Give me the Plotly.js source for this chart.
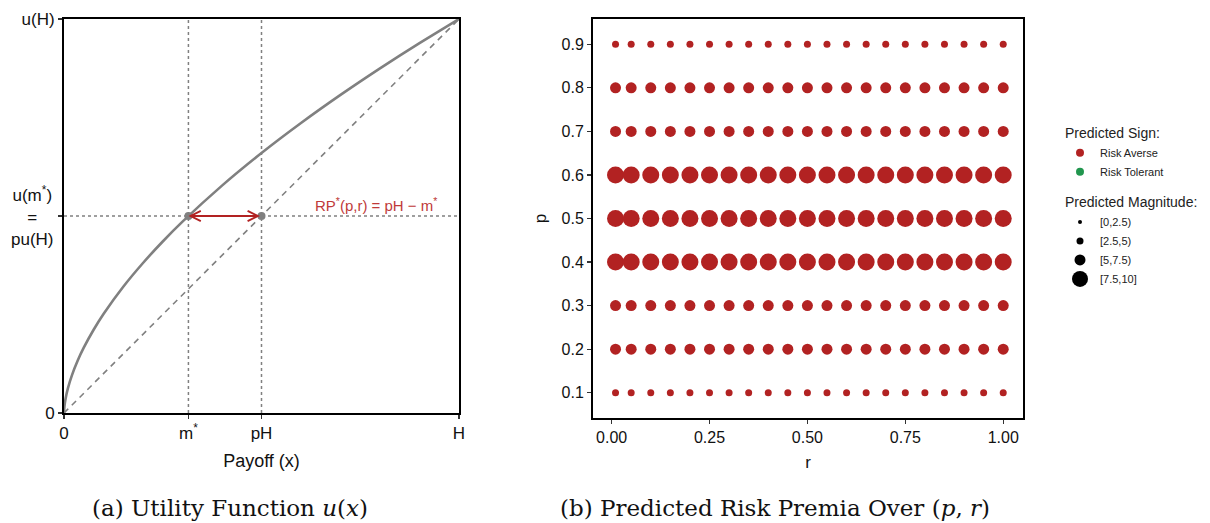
<!DOCTYPE html>
<html>
<head>
<meta charset="utf-8">
<script src="https://cdn.plot.ly/plotly-3.0.1.min.js"></script>
<style>html,body{margin:0;padding:0;background:#fff;}#chart{width:1210px;height:523px;}</style>
</head>
<body>
<div id="chart"></div>
<script>
// ---------- Panel (a): utility function ----------
const payoffX = [0, 0.001, 0.004, 0.01, 0.02, 0.035, 0.05, 0.075, 0.1, 0.15, 0.2, 0.25, 0.3, 0.4, 0.5, 0.6, 0.7, 0.8, 0.9, 1];
const utilityU = [0, 0.0158, 0.0364, 0.0631, 0.0956, 0.1338, 0.1657, 0.2113, 0.2512, 0.3204, 0.3807, 0.4353, 0.4856, 0.5771, 0.6598, 0.7360, 0.8073, 0.8747, 0.9387, 1];
const linearX = [0, 1];
const linearU = [0, 1];
const mStar = 0.315;     // certainty equivalent
const pH = 0.5;          // expected payoff
const uLevel = 0.5;      // u(m*) = p u(H)
const leftXTickVals = [0, mStar, pH, 1];
const leftXTickText = ['0', 'm<sup>*</sup>', 'pH', 'H'];
const leftYTickVals = [0, uLevel, 1];
const leftYTickText = ['0', ' ', 'u(H)'];

// ---------- Panel (b): predicted risk premia ----------
const rValues = [0.01, 0.05, 0.10, 0.15, 0.20, 0.25, 0.30, 0.35, 0.40, 0.45, 0.50, 0.55, 0.60, 0.65, 0.70, 0.75, 0.80, 0.85, 0.90, 0.95, 1.00];
const pValues = [0.1, 0.2, 0.3, 0.4, 0.5, 0.6, 0.7, 0.8, 0.9];
const magnitudeByP = [3.5, 6, 6, 8.5, 8.5, 8.5, 6, 6, 3.5];
const signByP = ['Risk Averse', 'Risk Averse', 'Risk Averse', 'Risk Averse', 'Risk Averse', 'Risk Averse', 'Risk Averse', 'Risk Averse', 'Risk Averse'];
const signLabels = ['Risk Averse', 'Risk Tolerant'];
const magnitudeLabels = ['[0,2.5)', '[2.5,5)', '[5,7.5)', '[7.5,10]'];
const rTicks = [0, 0.25, 0.5, 0.75, 1];
const pTicks = [0.1, 0.2, 0.3, 0.4, 0.5, 0.6, 0.7, 0.8, 0.9];

// styles
const signColors = {'Risk Averse': '#B22222', 'Risk Tolerant': '#21964E'};
const binSizes = [4, 7, 11, 17];
function binIndex(m) { return Math.min(3, Math.floor(m / 2.5)); }

const grey = '#808080';
const traces = [];

// left panel traces
traces.push({x: linearX, y: linearU, xaxis: 'x', yaxis: 'y', mode: 'lines',
  line: {color: grey, width: 1.6, dash: '6px,5px'}, showlegend: false, hoverinfo: 'skip'});
traces.push({x: [mStar, mStar], y: [0, 1], xaxis: 'x', yaxis: 'y', mode: 'lines',
  line: {color: grey, width: 1.5, dash: 'dot'}, showlegend: false, hoverinfo: 'skip'});
traces.push({x: [pH, pH], y: [0, 1], xaxis: 'x', yaxis: 'y', mode: 'lines',
  line: {color: grey, width: 1.5, dash: 'dot'}, showlegend: false, hoverinfo: 'skip'});
traces.push({x: [0, 1], y: [uLevel, uLevel], xaxis: 'x', yaxis: 'y', mode: 'lines',
  line: {color: grey, width: 1.5, dash: 'dot'}, showlegend: false, hoverinfo: 'skip'});
traces.push({x: payoffX, y: utilityU, xaxis: 'x', yaxis: 'y', mode: 'lines',
  line: {color: grey, width: 2.6, shape: 'spline', smoothing: 0.6}, showlegend: false});
traces.push({x: [mStar, pH], y: [uLevel, uLevel], xaxis: 'x', yaxis: 'y', mode: 'markers',
  marker: {color: grey, size: 8, opacity: 1}, showlegend: false});

// right panel data points
const px = [], py = [], ps = [], pc = [];
pValues.forEach((p, i) => {
  rValues.forEach(r => {
    px.push(r); py.push(p);
    ps.push(binSizes[binIndex(magnitudeByP[i])]);
    pc.push(signColors[signByP[i]]);
  });
});
traces.push({x: px, y: py, xaxis: 'x2', yaxis: 'y2', mode: 'markers',
  marker: {color: pc, size: ps, opacity: 1, line: {width: 0}}, showlegend: false});

// legend entries
signLabels.forEach((s, k) => {
  traces.push({x: [null], y: [null], xaxis: 'x2', yaxis: 'y2', mode: 'markers', name: s,
    marker: {color: signColors[s], size: 8, opacity: 1}, legendgroup: 'sign',
    legendgrouptitle: {text: 'Predicted Sign:', font: {size: 14, color: '#222'}}, showlegend: true});
});
magnitudeLabels.forEach((m, k) => {
  traces.push({x: [null], y: [null], xaxis: 'x2', yaxis: 'y2', mode: 'markers', name: m,
    marker: {color: '#000', size: binSizes[k], opacity: 1}, legendgroup: 'mag',
    legendgrouptitle: {text: 'Predicted Magnitude:', font: {size: 14, color: '#222'}}, showlegend: true});
});

const H = 523, W = 1210;
const axisCommon = {showgrid: false, zeroline: false, showline: true, linecolor: '#000', linewidth: 2,
  mirror: true, ticks: 'outside', ticklen: 4, tickwidth: 1.3, tickcolor: '#333'};

const layout = {
  width: W, height: H,
  margin: {l: 0, r: 0, t: 0, b: 0},
  paper_bgcolor: '#fff', plot_bgcolor: '#fff',
  font: {family: 'Liberation Sans, Arial, sans-serif', color: '#111'},
  xaxis: Object.assign({}, axisCommon, {domain: [64 / W, 459 / W], range: [0, 1], anchor: 'y',
    tickmode: 'array', tickvals: leftXTickVals, ticktext: leftXTickText, tickfont: {size: 17},
    title: {text: 'Payoff (x)', font: {size: 18}, standoff: 12}}),
  yaxis: Object.assign({}, axisCommon, {domain: [(H - 413) / H, (H - 19) / H], range: [0, 1], anchor: 'x',
    tickmode: 'array', tickvals: leftYTickVals, ticktext: leftYTickText, tickfont: {size: 17}}),
  xaxis2: Object.assign({}, axisCommon, {domain: [593 / W, 1023 / W], range: [-0.0475, 1.0505], anchor: 'y2',
    tickmode: 'array', tickvals: rTicks, tickformat: '.2f', tickfont: {size: 16},
    title: {text: 'r', font: {size: 17}, standoff: 11}}),
  yaxis2: Object.assign({}, axisCommon, {domain: [(H - 418) / H, (H - 19) / H], range: [0.042, 0.958], anchor: 'x2',
    tickmode: 'array', tickvals: pTicks, tickformat: '.1f', tickfont: {size: 16},
    title: {text: 'p', font: {size: 17}, standoff: 11}}),
  legend: {x: 1060 / W, y: 1 - 117 / H, xanchor: 'left', yanchor: 'top', traceorder: 'grouped',
    font: {size: 11, color: '#222'}, tracegroupgap: 10, bgcolor: 'rgba(0,0,0,0)', itemsizing: 'trace'},
  annotations: [
    {xref: 'paper', yref: 'y', x: 32 / W, y: uLevel, xanchor: 'center', yanchor: 'middle', align: 'center',
      showarrow: false, text: 'u(m<sup>*</sup>)<br>=<br>pu(H)', font: {size: 17, color: '#111'}},
    {xref: 'x', yref: 'y', x: mStar, y: uLevel, ax: pH, ay: uLevel, axref: 'x', ayref: 'y',
      showarrow: true, arrowside: 'end+start', arrowhead: 5, startarrowhead: 5, arrowsize: 1, startarrowsize: 1,
      arrowwidth: 2, arrowcolor: '#B22222', text: '', standoff: 0, startstandoff: 0},
    {xref: 'x', yref: 'y', x: 0.79, y: 0.528, xanchor: 'center', yanchor: 'middle', showarrow: false,
      text: 'RP<sup>*</sup>(p,r) = pH \u2212 m<sup>*</sup>', font: {size: 15, color: '#C03A3A'}},
    {xref: 'paper', yref: 'paper', x: 230 / W, y: 1 - 508 / H, xanchor: 'center', yanchor: 'middle', showarrow: false,
      text: '(a) Utility Function <i>u</i>(<i>x</i>)', font: {size: 23, family: 'DejaVu Serif, serif', color: '#111'}},
    {xref: 'paper', yref: 'paper', x: 775 / W, y: 1 - 508 / H, xanchor: 'center', yanchor: 'middle', showarrow: false,
      text: '(b) Predicted Risk Premia Over (<i>p</i>, <i>r</i>)', font: {size: 23, family: 'DejaVu Serif, serif', color: '#111'}}
  ]
};

Plotly.newPlot('chart', traces, layout, {displayModeBar: false, staticPlot: true});
</script>
</body>
</html>
